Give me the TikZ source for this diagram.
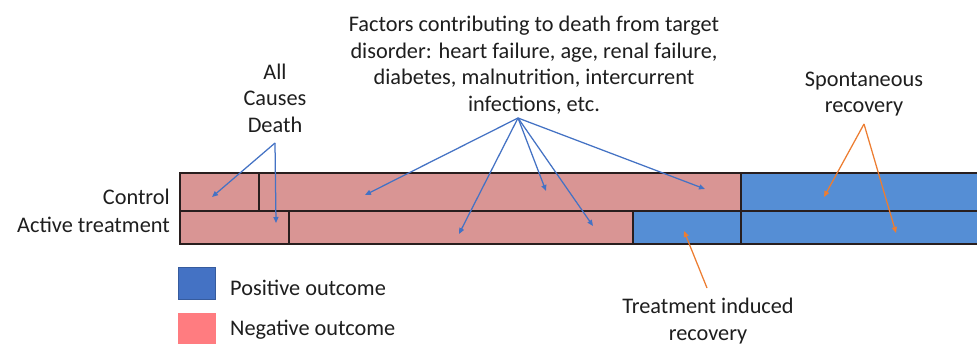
\documentclass[tikz,border=0pt]{standalone}
\usepackage{fontspec}
\setmainfont{Carlito}
\usetikzlibrary{arrows.meta}
\definecolor{barpink}{RGB}{217,149,148}
\definecolor{barblue}{RGB}{85,142,213}
\definecolor{legblue}{RGB}{68,114,196}
\definecolor{legpink}{RGB}{255,124,128}
\definecolor{arrblue}{RGB}{68,114,196}
\definecolor{arrorange}{RGB}{237,125,49}
\definecolor{txt}{RGB}{30,30,30}
\definecolor{edge}{RGB}{40,30,30}
\begin{document}
\begin{tikzpicture}[x=1pt,y=-1pt,
  lbl/.style={text=txt,font=\fontsize{22.3}{26.6}\selectfont,align=center,inner sep=0pt},
  seg/.style={draw=edge,line width=1.3pt},
  barrow/.style={draw=arrblue,line width=1.25pt,-{Triangle[length=6pt,width=5pt]}},
  oarrow/.style={draw=arrorange,line width=1.25pt,-{Triangle[length=6pt,width=5pt]}}]
\useasboundingbox[fill=white] (0,0) rectangle (977,343);
% bars
\filldraw[seg,fill=barpink] (180,173) rectangle (259,211);
\filldraw[seg,fill=barpink] (259,173) rectangle (741,211);
\filldraw[seg,fill=barblue] (741,173) rectangle (979,211);
\filldraw[seg,fill=barpink] (180,211) rectangle (289,244);
\filldraw[seg,fill=barpink] (289,211) rectangle (633,244);
\filldraw[seg,fill=barblue] (633,211) rectangle (741,244);
\filldraw[seg,fill=barblue] (741,211) rectangle (979,244);
% row labels
\node[lbl,anchor=east] (ctrl) at (170,197) {Control};
\node[lbl,anchor=east] (act) at (170,225) {Active treatment};
% legend
\node[fill=legblue,draw=legblue!80!black,line width=0.6pt,minimum width=37pt,minimum height=32pt,inner sep=0pt] (lb) at (197,283.5) {};
\node[fill=legpink,minimum width=38pt,minimum height=31pt,inner sep=0pt] (lp) at (197,328) {};
\node[lbl,anchor=west] (lbt) at (230,288) {Positive outcome};
\node[lbl,anchor=west] (lpt) at (230,330) {Negative outcome};
% annotation texts
\node[lbl] (acd) at (275,98) {All\\Causes\\Death};
\node[lbl] (fac) at (534,65) {Factors contributing to death from target\\disorder: heart failure, age, renal failure,\\diabetes, malnutrition, intercurrent\\infections, etc.};
\node[lbl] (spr) at (864,94) {Spontaneous\\recovery};
\node[lbl] (tir) at (708,321) {Treatment induced\\recovery};
% arrow origins
\coordinate (acdO) at (275,143);
\coordinate (facO) at (518,118);
\coordinate (sprO) at (864,124);
\coordinate (tirO) at (707,288);
% arrow targets
\coordinate (t1) at (212,197);
\coordinate (t2) at (276,223);
\coordinate (t3) at (365,195);
\coordinate (t4) at (459,234);
\coordinate (t5) at (546,191);
\coordinate (t6) at (593,226);
\coordinate (t7) at (705,189);
\coordinate (t8) at (824,197);
\coordinate (t9) at (896,233);
\coordinate (t10) at (684,231);
\draw[barrow] (acdO) -- (t1);
\draw[barrow] (acdO) -- (t2);
\draw[barrow] (facO) -- (t3);
\draw[barrow] (facO) -- (t4);
\draw[barrow] (facO) -- (t5);
\draw[barrow] (facO) -- (t6);
\draw[barrow] (facO) -- (t7);
\draw[oarrow] (sprO) -- (t8);
\draw[oarrow] (sprO) -- (t9);
\draw[oarrow] (tirO) -- (t10);
\end{tikzpicture}
\end{document}
